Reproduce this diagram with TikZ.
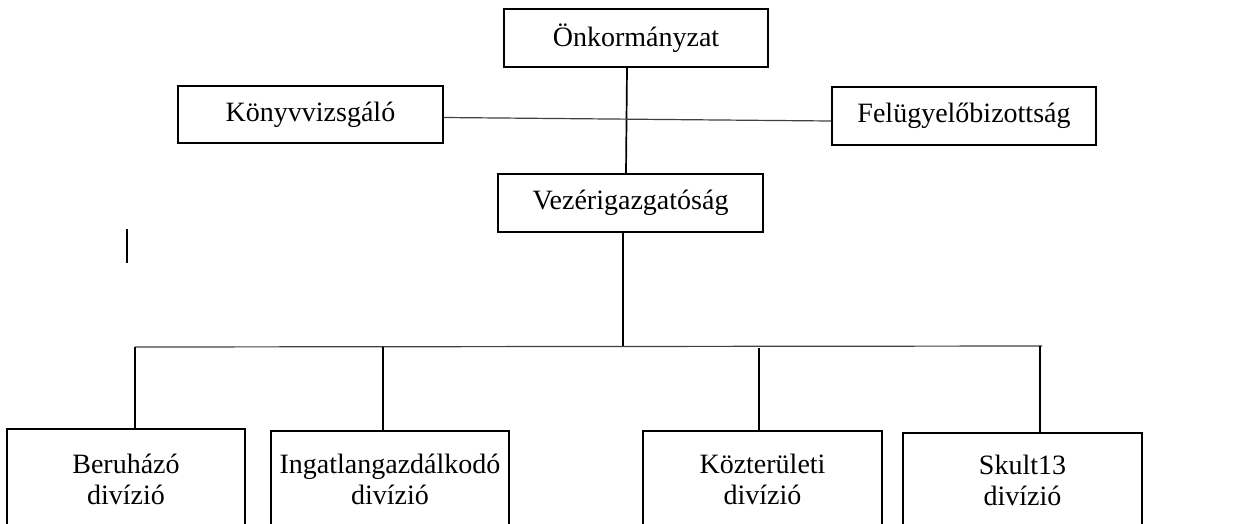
\documentclass[tikz,border=0pt]{standalone}
\usepackage{fontspec}
\setmainfont{Liberation Serif}
\tikzset{
  orgbox/.style={draw, line width=2.2pt, inner sep=0pt, align=center, font=\fontsize{28}{30}\selectfont},
  conn/.style={line width=1.7pt},
  thinconn/.style={line width=1.2pt, draw=black!75}
}
\begin{document}
\begin{tikzpicture}[x=1pt,y=-1pt]
\useasboundingbox (0,0) rectangle (1252,523);
\clip (0,0) rectangle (1252,523);
% top level
\node[orgbox, minimum width=264pt, minimum height=58pt] (onk) at (636,38) {Önkormányzat};
\node[orgbox, minimum width=265pt, minimum height=57pt] (konyv) at (310.5,114.5) {Könyvvizsgáló};
\node[orgbox, minimum width=264pt, minimum height=58pt] (felugy) at (964,116) {Felügyelőbizottság};
\node[orgbox, minimum width=265pt, minimum height=58pt] (vez) at (630.5,203) {Vezérigazgatóság};
% divisions
\node[orgbox, anchor=north, minimum width=238pt, minimum height=100pt] (ber) at (126,428) {Beruházó\\[1pt]divízió};
\node[orgbox, anchor=north, minimum width=238pt, minimum height=96pt] (ing) at (390,430) {Ingatlangazdálkodó\\[1pt]divízió};
\node[orgbox, anchor=north, minimum width=239pt, minimum height=96pt] (koz) at (762.5,430) {Közterületi\\[1pt]divízió};
\node[orgbox, anchor=north, minimum width=239pt, minimum height=94pt] (sku) at (1022.5,432) {Skult13\\[1pt]divízió};
% bar coordinates
\coordinate (bj) at (623,346);
\coordinate (bl) at (135,347);
\coordinate (br) at (1042,346);
% connectors
\draw[conn] ([xshift=-9pt]onk.south) -- ([xshift=-4.5pt]vez.north);
\draw[thinconn] ([yshift=-3pt]konyv.east) -- ([yshift=-5pt]felugy.west);
\draw[conn] ([xshift=-7.5pt]vez.south) -- (bj);
\draw[thinconn] (bl) -- (br);
\draw[conn] (bl) -- ([xshift=9pt]ber.north);
\draw[conn] (383,347) -- ([xshift=-7pt]ing.north);
\draw[conn] (759,348) -- ([xshift=-3.5pt]koz.north);
\draw[conn] (1040,346) -- ([xshift=17.5pt]sku.north);
% stray mark
\draw[line width=1.3pt] (127,229) -- (127,263);
\end{tikzpicture}
\end{document}
